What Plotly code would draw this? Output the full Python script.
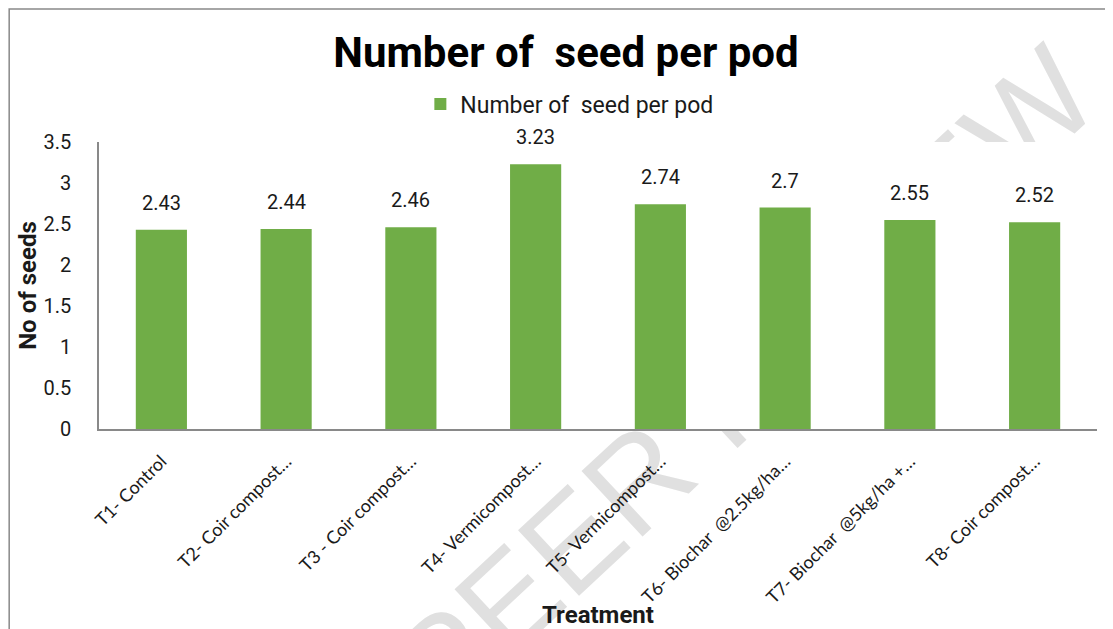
import plotly.graph_objects as go

# data
treatments = [
    "T1- Control",
    "T2- Coir compost…",
    "T3 - Coir compost…",
    "T4- Vermicompost…",
    "T5- Vermicompost…",
    "T6- Biochar  @2.5kg/ha…",
    "T7- Biochar  @5kg/ha +…",
    "T8- Coir compost…",
]
seeds_per_pod = [2.43, 2.44, 2.46, 3.23, 2.74, 2.7, 2.55, 2.52]
y_ticks = [0, 0.5, 1, 1.5, 2, 2.5, 3, 3.5]
y_tick_text = ["0", "0.5", "1", "1.5", "2", "2.5", "3", "3.5"]

bar_color = "#70AD47"
axis_color = "#898989"
narrow = "Roboto, Arial Narrow, sans-serif"
label_font = "Lato, Carlito, Calibri, sans-serif"

fig = go.Figure()

fig.add_trace(
    go.Bar(
        x=treatments,
        y=seeds_per_pod,
        name="Number of  seed per pod",
        marker=dict(color=bar_color, line=dict(width=0)),
    )
)

# value labels above each bar
for t, v in zip(treatments, seeds_per_pod):
    fig.add_annotation(
        x=t,
        y=v,
        text=str(v),
        showarrow=False,
        yanchor="bottom",
        yshift=13,
        font=dict(family=narrow, size=20, color="#1a1a1a"),
    )

# watermark sits behind the chart, hidden inside the plot area
fig.add_shape(
    type="rect",
    xref="paper",
    yref="paper",
    x0=0.538,
    x1=0.738,
    y0=0.1,
    y1=0.3,
    line=dict(width=0),
    fillcolor="rgba(0,0,0,0)",
    layer="below",
    label=dict(
        text="PEER REVIEW",
        textangle=-43,
        textposition="middle center",
        font=dict(family="Liberation Sans, Arial, sans-serif", size=130, color="#e0e0e0"),
    ),
)
fig.add_shape(
    type="rect",
    xref="x domain",
    yref="y domain",
    x0=0,
    x1=1,
    y0=0,
    y1=1,
    line=dict(width=0),
    fillcolor="white",
    layer="below",
)

# outer chart border
fig.add_shape(
    type="rect",
    xref="paper",
    yref="paper",
    x0=-0.09,
    x1=1.2,
    y0=-1.0,
    y1=1.463,
    line=dict(color=axis_color, width=1.5),
    fillcolor="rgba(0,0,0,0)",
    layer="above",
)

fig.update_xaxes(
    automargin=False,
    showline=True,
    linecolor=axis_color,
    linewidth=1.5,
    showgrid=False,
    ticks="outside",
    ticklen=13,
    tickcolor="rgba(0,0,0,0)",
    tickangle=-45,
    tickfont=dict(family=label_font, size=18, color="#1a1a1a"),
    title=dict(
        text="<b>Treatment</b>",
        font=dict(family=narrow, size=24, color="#1a1a1a"),
        standoff=0,
    ),
)
fig.update_yaxes(
    automargin=False,
    range=[0, 3.5],
    tickvals=y_ticks,
    ticktext=y_tick_text,
    showline=True,
    linecolor=axis_color,
    linewidth=1.5,
    showgrid=False,
    zeroline=False,
    ticks="",
    ticklabelstandoff=22,
    tickfont=dict(family=narrow, size=20, color="#1a1a1a"),
    title=dict(
        text="<b>No of seeds</b>",
        font=dict(family=narrow, size=24, color="#1a1a1a"),
        standoff=0,
    ),
)

fig.update_layout(
    width=1105,
    height=621,
    margin=dict(l=91, r=16, t=134, b=200, autoexpand=False),
    paper_bgcolor="white",
    plot_bgcolor="white",
    bargap=0.59,
    title=dict(
        text="<b>Number of  seed per pod</b>",
        x=0.505,
        xref="container",
        xanchor="center",
        y=0.929,
        yanchor="middle",
        font=dict(family=narrow, size=42, color="black"),
    ),
    showlegend=True,
    legend=dict(
        orientation="h",
        x=0.322,
        xanchor="left",
        y=1.132,
        yanchor="middle",
        font=dict(family=narrow, size=23, color="#1a1a1a"),
        bgcolor="rgba(0,0,0,0)",
    ),
)

fig.write_html("out.html")
